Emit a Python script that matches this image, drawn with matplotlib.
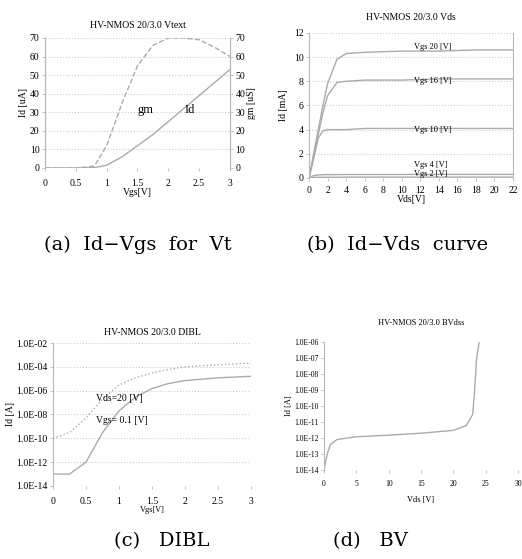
import matplotlib
matplotlib.use("Agg")
import matplotlib.pyplot as plt

plt.rcParams['font.family'] = ['Liberation Serif', 'DejaVu Serif']

# (a) Id-Vgs for Vt
vgs_a = [0, 0.5, 0.8, 1.0, 1.25, 1.5, 1.75, 2.0, 2.25, 2.5, 2.75, 3.0]
id_a = [0, 0, 0.2, 1.5, 6, 12, 18, 25, 32, 39, 46, 53]
gm_a = [0, 0, 1, 12, 35, 55, 66, 70, 70, 69, 65, 60]

# (b) Id-Vds curve
vds_b = [0, 0.25, 0.5, 1.0, 1.5, 2.0, 3.0, 4.0, 6.0, 10.0, 14.0, 18.0, 22.0]
id_b = {
    'Vgs 20 [V]': [0, 1.0, 2.0, 4.0, 6.0, 7.8, 9.8, 10.3, 10.4, 10.5, 10.5, 10.6, 10.6],
    'Vgs 16 [V]': [0, 0.9, 1.8, 3.6, 5.4, 6.8, 7.9, 8.0, 8.1, 8.1, 8.2, 8.2, 8.2],
    'Vgs 10 [V]': [0, 0.8, 1.6, 3.3, 3.9, 4.0, 4.0, 4.0, 4.1, 4.1, 4.1, 4.1, 4.1],
    'Vgs 4 [V]': [0, 0.12, 0.2, 0.25, 0.27, 0.28, 0.28, 0.29, 0.29, 0.29, 0.3, 0.3, 0.3],
    'Vgs 2 [V]': [0, 0.03, 0.05, 0.06, 0.06, 0.06, 0.06, 0.07, 0.07, 0.07, 0.07, 0.07, 0.07],
}
label_y_b = [10.8, 8.0, 4.0, 1.05, 0.35]

# (c) DIBL
vgs_c = [0, 0.25, 0.5, 0.75, 1.0, 1.25, 1.5, 1.75, 2.0, 2.5, 3.0]
id_c_20 = [1e-10, 3e-10, 5e-9, 2e-7, 3e-6, 1.2e-5, 3e-5, 6e-5, 1e-4, 1.5e-4, 2e-4]
id_c_01 = [1e-13, 1e-13, 1e-12, 3e-10, 2e-8, 3e-7, 1.5e-6, 4e-6, 7e-6, 1.2e-5, 1.6e-5]

# (d) BV
vds_d = [0, 0.5, 1, 2, 5, 10, 15, 20, 22, 23, 23.3, 23.6, 24]
id_d = [1e-14, 1e-13, 4e-13, 8e-13, 1.2e-12, 1.5e-12, 2e-12, 3e-12, 6e-12, 3e-11, 1e-9, 1e-7, 1e-6]

fig = plt.figure(figsize=(5.22, 5.59), dpi=100)

grey = '#ababab'
tfs = 7


def style_ax(ax, xpad=4):
    for s in ['top', 'bottom']:
        ax.spines[s].set_visible(False)
    for s in ['left', 'right']:
        ax.spines[s].set_color('#b8b8b8')
        ax.spines[s].set_linewidth(0.8)
    ax.tick_params(labelsize=tfs, length=2, width=0.5, color='#aaaaaa', pad=2)
    ax.tick_params(axis='x', pad=xpad)
    ax.grid(axis='y', color='#cccccc', linestyle=':', linewidth=0.8)


# (a)
ax1 = fig.add_axes([0.0862, 0.6995, 0.3544, 0.2326])
ax1.plot(vgs_a, id_a, color=grey, linewidth=1)
ax1b = ax1.twinx()
ax1b.plot(vgs_a, gm_a, color=grey, linewidth=1, linestyle='--')
ax1.set_xlim(0, 3)
ax1.set_ylim(0, 70)
ax1b.set_ylim(0, 70)
ax1.set_xticks([0, 0.5, 1, 1.5, 2, 2.5, 3])
ax1.set_xticklabels(['0', '0.5', '1', '1.5', '2', '2.5', '3'])
ax1.set_yticks(range(0, 71, 10))
ax1b.set_yticks(range(0, 71, 10))
style_ax(ax1, xpad=6)
style_ax(ax1b, xpad=6)
ax1b.grid(False)
ax1.set_title('HV-NMOS 20/3.0 Vtext', fontsize=tfs, pad=7)
ax1.set_xlabel('Vgs[V]', fontsize=tfs, labelpad=0)
ax1.set_ylabel('Id [uA]', fontsize=tfs, labelpad=1)
ax1b.set_ylabel('gm [uS]', fontsize=tfs, labelpad=1)
ax1.text(1.5, 31, 'gm', fontsize=9, va='center')
ax1.text(2.27, 31, 'Id', fontsize=9, va='center')

# (b)
ax2 = fig.add_axes([0.592, 0.6816, 0.3908, 0.2594])
for (name, ys), ly in zip(id_b.items(), label_y_b):
    ax2.plot(vds_b, ys, color=grey, linewidth=1)
    ax2.text(11.3, ly, name, fontsize=6, va='center')
ax2.set_xlim(0, 22)
ax2.set_ylim(0, 12)
ax2.set_xticks(range(0, 23, 2))
ax2.set_yticks(range(0, 13, 2))
style_ax(ax2, xpad=4)
ax2.set_title('HV-NMOS 20/3.0 Vds', fontsize=tfs, pad=9)
ax2.set_xlabel('Vds[V]', fontsize=tfs, labelpad=0)
ax2.set_ylabel('Id [mA]', fontsize=tfs, labelpad=4)

# (c)
ax3 = fig.add_axes([0.1015, 0.1306, 0.3793, 0.2558])
ax3.plot(vgs_c, id_c_20, color=grey, linewidth=1, linestyle=':')
ax3.plot(vgs_c, id_c_01, color=grey, linewidth=1)
ax3.set_yscale('log')
ax3.set_xlim(0, 3)
ax3.set_ylim(1e-14, 1e-2)
ax3.set_xticks([0, 0.5, 1, 1.5, 2, 2.5, 3])
ax3.set_xticklabels(['0', '0.5', '1', '1.5', '2', '2.5', '3'])
exps_c = [-2, -4, -6, -8, -10, -12, -14]
ax3.set_yticks([10.0 ** e for e in exps_c])
ax3.set_yticklabels(['1.0E-%02d' % -e for e in exps_c])
ax3.minorticks_off()
style_ax(ax3, xpad=6)
ax3.spines['right'].set_visible(False)
ax3.set_title('HV-NMOS 20/3.0 DIBL', fontsize=tfs, pad=6)
ax3.set_xlabel('Vgs[V]', fontsize=6, labelpad=0)
ax3.set_ylabel('Id [A]', fontsize=tfs, labelpad=1)
ax3.text(0.65, 2e-7, 'Vds=20 [V]', fontsize=7, va='center')
ax3.text(0.65, 3e-9, 'Vgs= 0.1 [V]', fontsize=7, va='center')

# (d)
ax4 = fig.add_axes([0.6207, 0.1592, 0.3716, 0.229])
ax4.plot(vds_d, id_d, color=grey, linewidth=1)
ax4.set_yscale('log')
ax4.set_xlim(0, 30)
ax4.set_ylim(1e-14, 1e-6)
ax4.set_xticks(range(0, 31, 5))
exps_d = list(range(-6, -15, -1))
ax4.set_yticks([10.0 ** e for e in exps_d])
ax4.set_yticklabels(['1.0E-%02d' % -e for e in exps_d])
ax4.minorticks_off()
style_ax(ax4, xpad=5)
ax4.spines['right'].set_visible(False)
ax4.grid(False)
ax4.tick_params(labelsize=5.5)
ax4.set_title('HV-NMOS 20/3.0 BVdss', fontsize=6, pad=12)
ax4.set_xlabel('Vds [V]', fontsize=6, labelpad=6)
ax4.set_ylabel('Id [A]', fontsize=6, labelpad=1)

# captions
cfs = 14
cfam = ['DejaVu Serif']
fig.text(0.264, 0.562, '(a)  Id\u2212Vgs  for  Vt', fontsize=cfs, family=cfam, ha='center', va='center')
fig.text(0.761, 0.562, '(b)  Id\u2212Vds  curve', fontsize=cfs, family=cfam, ha='center', va='center')
fig.text(0.309, 0.032, '(c)   DIBL', fontsize=cfs, family=cfam, ha='center', va='center')
fig.text(0.709, 0.032, '(d)   BV', fontsize=cfs, family=cfam, ha='center', va='center')

fig.savefig('out.png', dpi=100)
